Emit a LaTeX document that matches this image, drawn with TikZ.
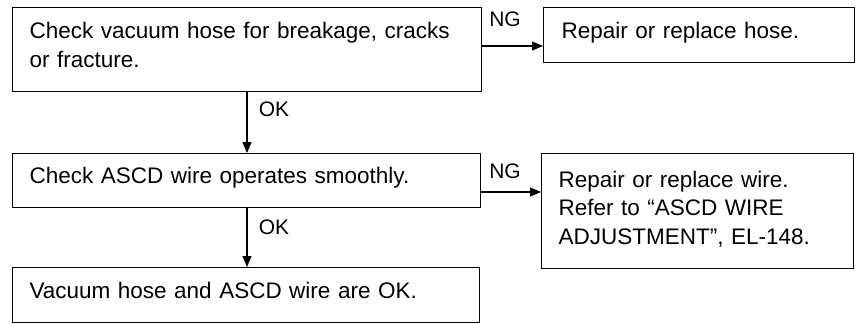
\documentclass[tikz,border=0pt]{standalone}
\usepackage{fontspec}
\setmainfont{Liberation Sans}
\usetikzlibrary{arrows.meta}
\begin{document}
\begin{tikzpicture}[x=1pt,y=-1pt,
  box/.style={draw,line width=1.2pt,rectangle,anchor=north west,align=left,inner xsep=17pt,inner ysep=0pt,text height=13.5pt,text depth=7pt,font=\fontsize{22.5}{28.5}\selectfont},
  conn/.style={line width=1.1pt,-{Triangle[length=11pt,width=9pt]}},
  lbl/.style={font=\fontsize{21}{22}\selectfont,inner sep=0pt}]
\useasboundingbox (0,0) rectangle (857,324);
\node[box,minimum width=469pt,minimum height=84pt,text width=435pt,text depth=35.5pt] (b1) at (12,7) {Check vacuum hose for breakage, cracks\\or fracture.};
\node[box,minimum width=311pt,minimum height=55pt,text width=275pt,inner xsep=18pt] (b2) at (543,7) {Repair or replace hose.};
\node[box,minimum width=468pt,minimum height=54pt,text width=434pt] (b3) at (12,153) {Check ASCD wire operates smoothly.};
\node[box,minimum width=312pt,minimum height=115pt,text width=278pt,text height=15pt,text depth=63pt] (b4) at (541,153) {Repair or replace wire.\\Refer to “ASCD WIRE\\ADJUSTMENT”, EL-148.};
\node[box,minimum width=467pt,minimum height=55pt,text width=433pt] (b5) at (12,267) {Vacuum hose and ASCD wire are OK.};
\coordinate (okx) at (247,0);
\coordinate (ngA) at (0,46);
\coordinate (ngB) at (0,192);
\draw[conn] (b1.south -| okx) -- (b3.north -| okx);
\draw[conn] (b3.south -| okx) -- (b5.north -| okx);
\draw[conn] (b1.east |- ngA) -- (b2.west |- ngA);
\draw[conn] (b3.east |- ngB) -- (b4.west |- ngB);
\node[lbl] (ng1) at (505,19) {NG};
\node[lbl] (ng2) at (505,171) {NG};
\node[lbl] (ok1) at (274,109) {OK};
\node[lbl] (ok2) at (274,227) {OK};
\end{tikzpicture}
\end{document}
